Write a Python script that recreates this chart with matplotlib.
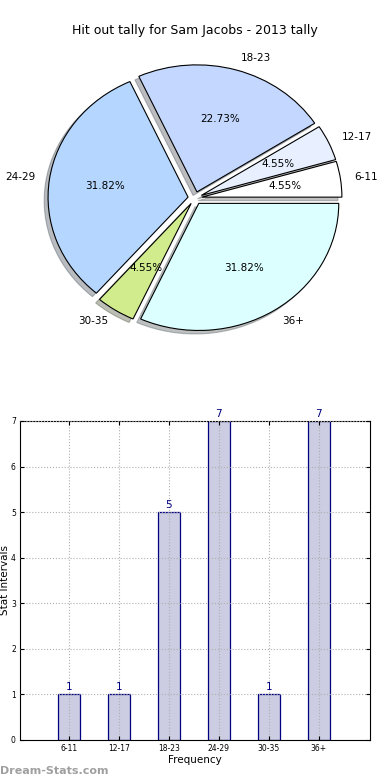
import matplotlib
matplotlib.use('Agg')
import matplotlib.pyplot as plt

categories = ['6-11', '12-17', '18-23', '24-29', '30-35', '36+']
counts = [1, 1, 5, 7, 1, 7]
pie_colors = ['#ffffff', '#e8f0ff', '#c4d8ff', '#b4d6ff', '#d0ec8c', '#dcffff']
title = 'Hit out tally for Sam Jacobs - 2013 tally'

fig = plt.figure(figsize=(3.9, 7.8), dpi=100)

# pie (stretched, no equal aspect, like old matplotlib output)
ax1 = fig.add_axes([0.0692, 0.5506, 0.8615, 0.391])
wedges, texts, autotexts = ax1.pie(
    counts, labels=categories, colors=pie_colors, explode=[0.05] * len(counts),
    autopct='%1.2f%%', shadow={'ox': -0.02, 'oy': -0.02, 'alpha': 0.35}, startangle=0,
    wedgeprops={'edgecolor': 'black', 'linewidth': 0.8},
    textprops={'fontsize': 7.5})
ax1.set_aspect('auto')
ax1.set_xlim(-1.2, 1.2)
ax1.set_ylim(-1.2, 1.2)
ax1.axis('off')
fig.text(0.5, 0.961, title, ha='center', va='center', fontsize=9)

# bar chart
ax2 = fig.add_axes([0.0513, 0.0513, 0.897, 0.409])
xs = [x - 0.02 for x in range(1, len(categories) + 1)]
ax2.bar(xs, counts, width=0.45, color='#ccccE2', edgecolor='#000080', linewidth=0.9, zorder=1)
for x, c in zip(xs, counts):
    ax2.text(x, c + 0.05, str(c), ha='center', va='bottom', color='#000080', fontsize=7.5)
ax2.set_xlim(0, 7)
ax2.set_ylim(0, 7)
ax2.set_xticks(xs)
ax2.set_xticklabels(categories)
ax2.set_yticks(range(0, 8))
ax2.tick_params(labelsize=5.5, direction='in', top=True, right=True, length=3, pad=3)
ax2.grid(True, linestyle=':', color='#b0b0b0', linewidth=0.8, zorder=3)
ax2.set_axisbelow(False)
ax2.set_xlabel('Frequency', fontsize=7.5, labelpad=1)
ax2.set_ylabel('Stat Intervals', fontsize=7.5)
ax2.yaxis.set_label_coords(-0.029, 0.5)

fig.text(0.0, 0.0115, 'Dream-Stats.com', color='#a0a0a0', fontsize=8, ha='left', va='center',
         fontweight='semibold')

fig.savefig('out.png', dpi=100)
